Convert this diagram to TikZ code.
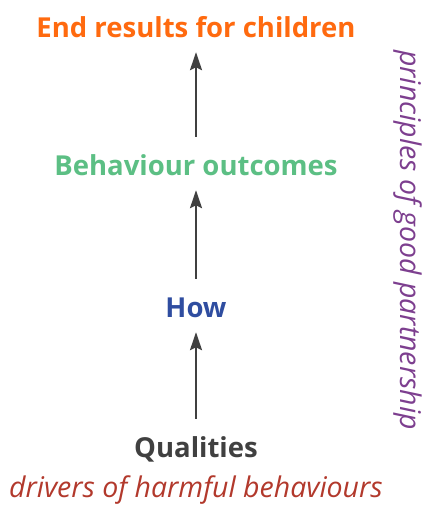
\documentclass[tikz,border=0pt]{standalone}
\usepackage{fontspec}
\setmainfont{Open Sans}
\usetikzlibrary{arrows.meta}
\definecolor{laranja}{HTML}{FF6A0F}
\definecolor{verde}{HTML}{5CBF84}
\definecolor{azul}{HTML}{2F4DA0}
\definecolor{cinza}{HTML}{404040}
\definecolor{roxo}{HTML}{7D3F8F}
\definecolor{vermelho}{HTML}{B2392C}
\begin{document}
\begin{tikzpicture}[
            x=1pt, y=-1pt,
            nivel/.style={inner sep=0pt, anchor=base, text height=21pt, text depth=0pt,
                font=\fontsize{27.5}{27.5}\selectfont\bfseries},
            nota/.style={inner sep=0pt, anchor=base, font=\fontsize{28.5}{28.5}\selectfont\itshape},
            seta/.style={-{Stealth[length=18pt, width=12pt, inset=3pt]}, line width=2.3pt, draw=cinza,
                shorten <=17pt, shorten >=15pt},
        ]
        \useasboundingbox (0, 0) rectangle (424, 506);
        \node[nivel, text=laranja] (fim) at (196, 37) {End results for children};
        \node[nivel, text=verde] (comp) at (196, 175) {Behaviour outcomes};
        \node[nivel, text=azul] (como) at (196, 317) {How};
        \node[nivel, text=cinza] (qual) at (196, 457) {Qualities};
        \node[nota, text=vermelho] (drivers) at (196, 497.5) {drivers of harmful behaviours};
        \node[nota, text=roxo, rotate=-90] (princ) at (400, 240) {principles of good partnership};

        \draw[seta] (qual) -- (como);
        \draw[seta] (como) -- (comp);
        \draw[seta] (comp) -- (fim);

    \end{tikzpicture}
\end{document}
